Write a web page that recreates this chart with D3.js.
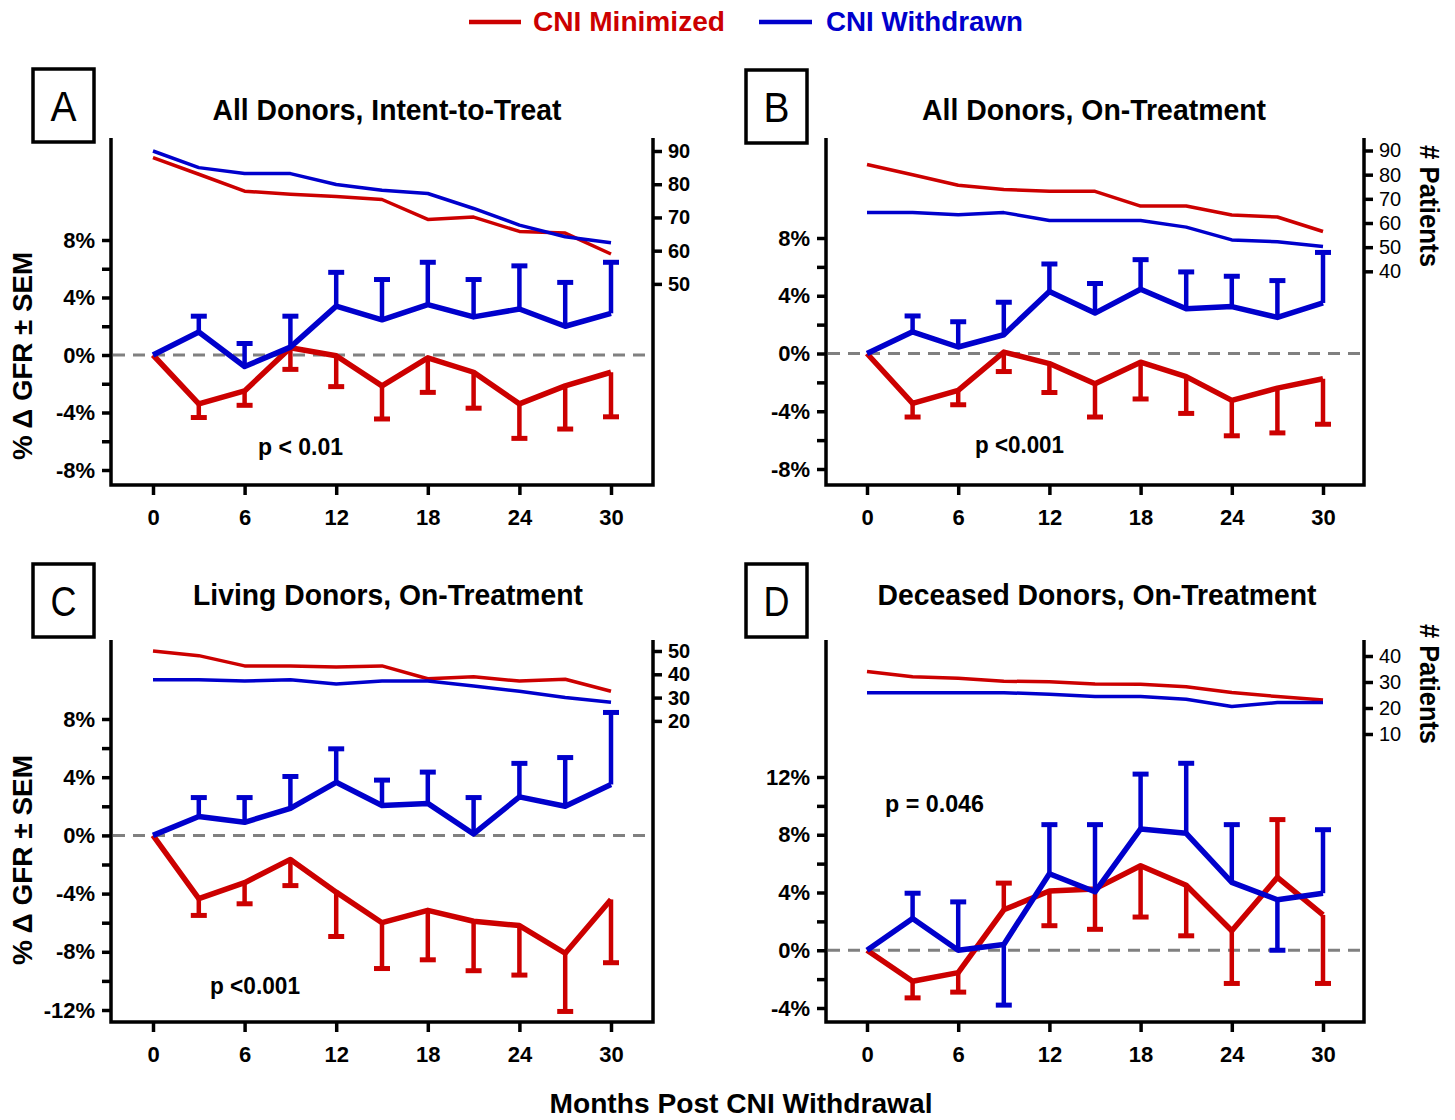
<!DOCTYPE html>
<html><head><meta charset="utf-8">
<script src="https://cdnjs.cloudflare.com/ajax/libs/d3/7.8.5/d3.min.js"></script>
<style>
html,body{margin:0;padding:0;background:#fff;}
svg{display:block;font-family:"Liberation Sans",Arial,Helvetica,sans-serif;}
</style></head><body>
<svg id="chart" width="1455" height="1120"></svg>
<script>
// ---------------- DATA ----------------
const months = [0, 3, 6, 9, 12, 15, 18, 21, 24, 27, 30];
const monthTicks = [0, 6, 12, 18, 24, 30];
const seriesNames = ["CNI Minimized", "CNI Withdrawn"];
const panelLetters = ["A", "B", "C", "D"];
const panelTitles = ["All Donors, Intent-to-Treat", "All Donors, On-Treatment",
                     "Living Donors, On-Treatment", "Deceased Donors, On-Treatment"];
const pValueLabels = ["p < 0.01", "p <0.001", "p <0.001", "p = 0.046"];
const yAxisTitle = "% \u0394 GFR \u00B1 SEM";
const rightAxisTitle = "# Patients";
const xAxisTitle = "Months Post CNI Withdrawal";

// Panel A
const gfrMinA    = [0, -3.4, -2.5, 0.5, -0.05, -2.15, -0.2, -1.2, -3.4, -2.15, -1.2];
const gfrMinBarA = [null, -4.35, -3.5, -1.0, -2.2, -4.45, -2.6, -3.7, -5.8, -5.15, -4.3];
const gfrWdA     = [0, 1.6, -0.8, 0.55, 3.4, 2.45, 3.5, 2.65, 3.2, 2.0, 2.9];
const gfrWdBarA  = [null, 2.7, 0.8, 2.7, 5.75, 5.25, 6.45, 5.25, 6.2, 5.05, 6.45];
const ptsMinA    = [88, 83, 77.9, 77, 76.3, 75.4, 69.4, 70.1, 65.8, 65.3, 59];
const ptsWdA     = [90, 85, 83.2, 83.2, 79.9, 78.2, 77.2, 72.7, 67.7, 64.2, 62.4];
const gfrTicksA  = [-8, -4, 0, 4, 8];
const ptsTicksA  = [50, 60, 70, 80, 90];

// Panel B
const gfrMinB    = [0, -3.45, -2.55, 0.1, -0.7, -2.1, -0.6, -1.6, -3.25, -2.4, -1.75];
const gfrMinBarB = [null, -4.4, -3.55, -1.25, -2.7, -4.4, -3.15, -4.15, -5.7, -5.5, -4.9];
const gfrWdB     = [0, 1.5, 0.45, 1.3, 4.3, 2.8, 4.45, 3.1, 3.25, 2.5, 3.5];
const gfrWdBarB  = [null, 2.6, 2.2, 3.55, 6.2, 4.85, 6.5, 5.65, 5.35, 5.05, 7.0];
const ptsMinB    = [84.2, 80, 75.6, 73.9, 73.1, 73.1, 67, 67, 63.3, 62.5, 56.5];
const ptsWdB     = [64.3, 64.3, 63.4, 64.3, 61, 61, 61, 58.3, 53, 52.2, 50.3];
const gfrTicksB  = [-8, -4, 0, 4, 8];
const ptsTicksB  = [40, 50, 60, 70, 80, 90];

// Panel C
const gfrMinC    = [0, -4.35, -3.25, -1.65, -3.9, -6.0, -5.15, -5.9, -6.2, -8.1, -4.4];
const gfrMinBarC = [null, -5.5, -4.7, -3.45, -6.95, -9.15, -8.55, -9.3, -9.6, -12.1, -8.75];
const gfrWdC     = [0, 1.3, 0.9, 1.85, 3.65, 2.05, 2.2, 0.1, 2.65, 2.0, 3.5];
const gfrWdBarC  = [null, 2.6, 2.6, 4.05, 5.95, 3.8, 4.35, 2.6, 4.95, 5.35, 8.45];
const ptsMinC    = [50, 48, 43.6, 43.6, 43.1, 43.6, 38.1, 38.9, 37.1, 37.9, 32.7];
const ptsWdC     = [37.7, 37.7, 37.1, 37.7, 35.8, 37.1, 37.1, 35, 32.7, 30, 28];
const gfrTicksC  = [-12, -8, -4, 0, 4, 8];
const ptsTicksC  = [20, 30, 40, 50];

// Panel D
const gfrMinD    = [0, -2.15, -1.55, 2.8, 4.1, 4.25, 5.85, 4.5, 1.35, 5.05, 2.45];
const gfrMinBarD = [null, -3.3, -2.9, 4.65, 1.7, 1.45, 2.3, 1.0, -2.3, 9.05, -2.3];
const gfrWdD     = [0, 2.2, 0, 0.4, 5.3, 4.05, 8.4, 8.1, 4.7, 3.5, 3.95];
const gfrWdBarD  = [null, 3.95, 3.35, -3.8, 8.7, 8.7, 12.2, 12.95, 8.7, 0.0, 8.35];
const ptsMinD    = [34, 32, 31.4, 30.3, 30.1, 29.2, 29.1, 28.2, 26, 24.4, 23.1];
const ptsWdD     = [25.9, 25.9, 25.9, 25.9, 25.3, 24.4, 24.4, 23.4, 20.6, 22.1, 22.1];
const gfrTicksD  = [-4, 0, 4, 8, 12];
const ptsTicksD  = [10, 20, 30, 40];

// ---------------- STYLE / LAYOUT ----------------
const RED = "#cc0000", BLUE = "#0000cc";
const colors = [RED, BLUE];

const panels = [
  {letter: panelLetters[0], title: panelTitles[0], p: pValueLabels[0],
   series: [[gfrMinA, gfrMinBarA, ptsMinA], [gfrWdA, gfrWdBarA, ptsWdA]],
   gfrTicks: gfrTicksA, ptsTicks: ptsTicksA,
   left: 111, right: 653, top: 138, bottom: 485, x0: 153, x1: 611,
   gfrRange: [470, 240], ptsRange: [450, 151], rightBold: true, showRightTitle: false,
   box: [33, 69], titleX: 387, titleY: 120, titleW: 349,
   pX: 258, pY: 455, pW: 85},
  {letter: panelLetters[1], title: panelTitles[1], p: pValueLabels[1],
   series: [[gfrMinB, gfrMinBarB, ptsMinB], [gfrWdB, gfrWdBarB, ptsWdB]],
   gfrTicks: gfrTicksB, ptsTicks: ptsTicksB,
   left: 826, right: 1364, top: 138, bottom: 485, x0: 867, x1: 1323,
   gfrRange: [469, 238], ptsRange: [368, 150.5], rightBold: false, showRightTitle: true,
   rtX: 1420, rtY: 206, rtW: 122,
   box: [746, 70], titleX: 1094, titleY: 120, titleW: 344,
   pX: 975, pY: 453, pW: 89},
  {letter: panelLetters[2], title: panelTitles[2], p: pValueLabels[2],
   series: [[gfrMinC, gfrMinBarC, ptsMinC], [gfrWdC, gfrWdBarC, ptsWdC]],
   gfrTicks: gfrTicksC, ptsTicks: ptsTicksC,
   left: 111, right: 653, top: 640, bottom: 1022, x0: 153, x1: 611,
   gfrRange: [1010, 719], ptsRange: [767.5, 651], rightBold: true, showRightTitle: false,
   box: [33, 564], titleX: 388, titleY: 605, titleW: 390,
   pX: 210, pY: 994, pW: 90},
  {letter: panelLetters[3], title: panelTitles[3], p: pValueLabels[3],
   series: [[gfrMinD, gfrMinBarD, ptsMinD], [gfrWdD, gfrWdBarD, ptsWdD]],
   gfrTicks: gfrTicksD, ptsTicks: ptsTicksD,
   left: 826, right: 1364, top: 640, bottom: 1022, x0: 867, x1: 1323,
   gfrRange: [1008, 777], ptsRange: [760, 656], rightBold: false, showRightTitle: true,
   rtX: 1420, rtY: 684, rtW: 120,
   box: [746, 564], titleX: 1097, titleY: 605, titleW: 439,
   pX: 885, pY: 812, pW: 99}
];

const svg = d3.select("#chart");

function styleAxis(g, fontSize, bold) {
  g.select(".domain").remove();
  g.selectAll(".tick line").attr("stroke", "#000").attr("stroke-width", 3.5);
  g.selectAll(".tick text").attr("fill", "#000")
    .style("font-size", fontSize + "px")
    .style("font-weight", bold ? "bold" : "normal")
    .style("font-family", '"Liberation Sans", Arial, sans-serif');
}

panels.forEach(P => {
  const g = svg.append("g");
  const x = d3.scaleLinear().domain([0, 30]).range([P.x0, P.x1]);
  const gLo = d3.min(P.gfrTicks), gHi = d3.max(P.gfrTicks);
  const y = d3.scaleLinear().domain([gLo, gHi]).range(P.gfrRange);
  const yP = d3.scaleLinear().domain([0, d3.max(P.ptsTicks)]).range(P.ptsRange);

  // axes
  const xa = g.append("g").attr("transform", `translate(0,${P.bottom})`)
    .call(d3.axisBottom(x).tickValues(monthTicks).tickSize(10).tickPadding(14));
  styleAxis(xa, 22, true);

  const minor = d3.range(gLo, gHi + 0.001, 2);
  const ya = g.append("g").attr("transform", `translate(${P.left},0)`)
    .call(d3.axisLeft(y).tickValues(minor)
      .tickFormat(v => P.gfrTicks.includes(v) ? v + "%" : "")
      .tickSize(9).tickPadding(7));
  styleAxis(ya, 22, true);

  const ra = g.append("g").attr("transform", `translate(${P.right},0)`)
    .call(d3.axisRight(yP).tickValues(P.ptsTicks).tickFormat(d3.format("d")).tickSize(9).tickPadding(6));
  styleAxis(ra, 20, P.rightBold);

  // frame
  g.append("path")
    .attr("d", `M${P.left},${P.top}V${P.bottom}H${P.right}V${P.top}`)
    .attr("fill", "none").attr("stroke", "#000").attr("stroke-width", 3.5)
    .attr("stroke-linejoin", "miter");

  // zero dashed line
  g.append("line")
    .attr("x1", P.left + 2).attr("x2", P.right - 2)
    .attr("y1", y(0)).attr("y2", y(0))
    .attr("stroke", "#808080").attr("stroke-width", 3)
    .attr("stroke-dasharray", "12,8");

  // patient count lines
  const pLine = d3.line().x((d, i) => x(months[i])).y(d => yP(d));
  P.series.forEach((s, k) => {
    g.append("path").attr("d", pLine(s[2]))
      .attr("fill", "none").attr("stroke", colors[k]).attr("stroke-width", 3.5)
      .attr("stroke-linejoin", "round");
  });

  // GFR lines with one-sided SEM bars
  const gLine = d3.line().x((d, i) => x(months[i])).y(d => y(d));
  P.series.forEach((s, k) => {
    const mean = s[0], bar = s[1];
    const eb = g.append("g");
    mean.forEach((m, i) => {
      if (bar[i] === null) return;
      const xi = x(months[i]);
      eb.append("line").attr("x1", xi).attr("x2", xi)
        .attr("y1", y(m)).attr("y2", y(bar[i]))
        .attr("stroke", colors[k]).attr("stroke-width", 4.5);
      eb.append("line").attr("x1", xi - 8).attr("x2", xi + 8)
        .attr("y1", y(bar[i])).attr("y2", y(bar[i]))
        .attr("stroke", colors[k]).attr("stroke-width", 5);
    });
    g.append("path").attr("d", gLine(mean))
      .attr("fill", "none").attr("stroke", colors[k]).attr("stroke-width", 5.5)
      .attr("stroke-linejoin", "round");
  });

  // panel letter box
  g.append("rect").attr("x", P.box[0]).attr("y", P.box[1])
    .attr("width", 61).attr("height", 73)
    .attr("fill", "none").attr("stroke", "#000").attr("stroke-width", 3.5);
  g.append("text").attr("x", P.box[0] + 30.5).attr("y", P.box[1] + 52)
    .attr("text-anchor", "middle").style("font-size", "42px")
    .attr("textLength", 26).attr("lengthAdjust", "spacingAndGlyphs")
    .text(P.letter);

  // title
  g.append("text").attr("x", P.titleX).attr("y", P.titleY)
    .attr("text-anchor", "middle").style("font-size", "29px").style("font-weight", "bold")
    .attr("textLength", P.titleW).attr("lengthAdjust", "spacingAndGlyphs")
    .text(P.title);

  // p-value
  g.append("text").attr("x", P.pX).attr("y", P.pY)
    .style("font-size", "23px").style("font-weight", "bold")
    .attr("textLength", P.pW).attr("lengthAdjust", "spacingAndGlyphs")
    .text(P.p);

  // right axis title
  if (P.showRightTitle) {
    g.append("text").attr("transform", `translate(${P.rtX},${P.rtY}) rotate(90)`)
      .attr("text-anchor", "middle").style("font-size", "27px").style("font-weight", "bold")
      .attr("textLength", P.rtW).attr("lengthAdjust", "spacingAndGlyphs")
      .text(rightAxisTitle);
  }
});

// left y-axis titles
[[356, 208], [860, 210]].forEach(([cy, w]) => {
  svg.append("text").attr("transform", `translate(32,${cy}) rotate(-90)`)
    .attr("text-anchor", "middle").style("font-size", "28px").style("font-weight", "bold")
    .attr("textLength", w).attr("lengthAdjust", "spacingAndGlyphs")
    .text(yAxisTitle);
});

// bottom x-axis title
svg.append("text").attr("x", 741).attr("y", 1113)
  .attr("text-anchor", "middle").style("font-size", "28px").style("font-weight", "bold")
  .attr("textLength", 383).attr("lengthAdjust", "spacingAndGlyphs")
  .text(xAxisTitle);

// legend
const legend = svg.append("g");
const legX = [[469, 521, 533, 192], [759, 812, 826, 197]];
seriesNames.forEach((name, k) => {
  const [lx1, lx2, tx, tw] = legX[k];
  legend.append("line").attr("x1", lx1).attr("x2", lx2).attr("y1", 22).attr("y2", 22)
    .attr("stroke", colors[k]).attr("stroke-width", 4.5);
  legend.append("text").attr("x", tx).attr("y", 31)
    .attr("fill", colors[k]).style("font-size", "27px").style("font-weight", "bold")
    .attr("textLength", tw).attr("lengthAdjust", "spacingAndGlyphs")
    .text(name);
});
</script>
</body></html>
